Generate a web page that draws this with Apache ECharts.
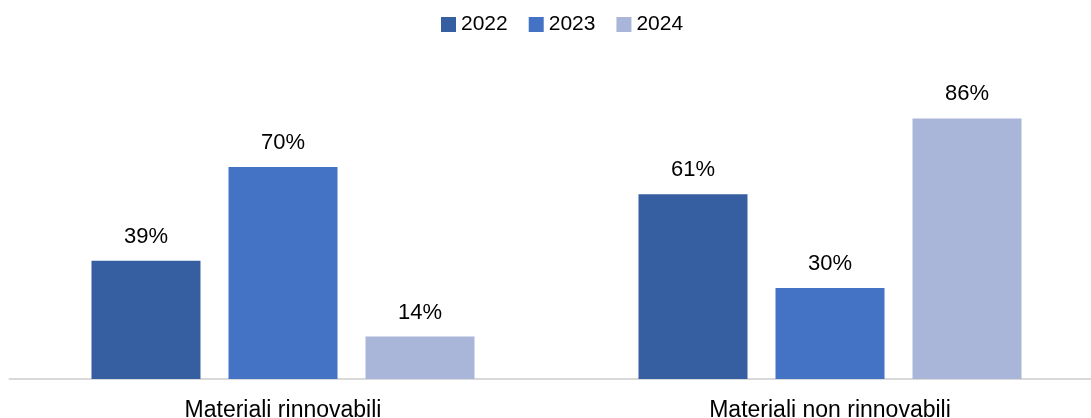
<!DOCTYPE html>
<html>
<head>
<meta charset="utf-8">
<script src="https://cdn.jsdelivr.net/npm/echarts@6/dist/echarts.min.js"></script>
<style>html,body{margin:0;padding:0;background:#fff}#c{width:1091px;height:418px}</style>
</head>
<body>
<div id="c"></div>
<script>
const categories = ["Materiali rinnovabili", "Materiali non rinnovabili"];
const seriesNames = ["2022", "2023", "2024"];
const values2022 = [39, 61];
const values2023 = [70, 30];
const values2024 = [14, 86];
const colors = ["#355FA0", "#4472C4", "#A9B6DA"];

const chart = echarts.init(document.getElementById('c'));
const font = "'Liberation Sans', Arial, sans-serif";
const data = [values2022, values2023, values2024];
chart.setOption({
  animation: false,
  legend: {
    top: 9, left: 436, itemWidth: 15, itemHeight: 15, itemGap: 21,
    textStyle: { fontFamily: font, fontSize: 21, color: '#000' },
    data: seriesNames.map(n => ({ name: n, icon: 'rect' }))
  },
  grid: { left: 9.5, right: -12.5, top: 76, bottom: 39, containLabel: false, outerBoundsMode: 'none' },
  xAxis: {
    type: 'category', data: categories,
    axisLine: { lineStyle: { color: '#d9d9d9', width: 2 } },
    axisTick: { show: false },
    axisLabel: { fontFamily: font, fontSize: 23, color: '#000', margin: 20 }
  },
  yAxis: { type: 'value', min: 0, max: 100, show: false, splitLine: { show: false } },
  series: seriesNames.map((n, i) => ({
    name: n, type: 'bar', data: data[i], barWidth: 109, barGap: '25.7%',
    itemStyle: { color: colors[i] },
    label: { show: true, position: 'top', distance: 13, formatter: '{c}%', fontFamily: font, fontSize: 22, color: '#000' }
  }))
});
</script>
</body>
</html>
